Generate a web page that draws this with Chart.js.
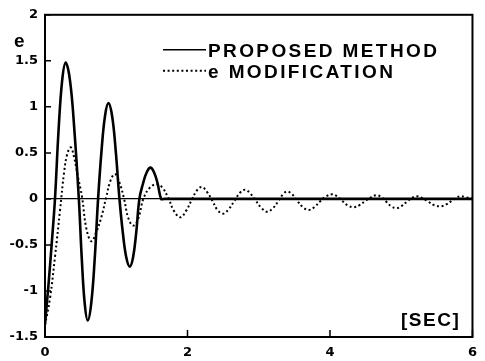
<!DOCTYPE html>
<html><head><meta charset="utf-8">
<script src="https://cdn.jsdelivr.net/npm/chart.js@4.4.0/dist/chart.umd.min.js"></script>
<style>html,body{margin:0;padding:0;background:#fff;overflow:hidden}#wrap{width:485px;height:361px}</style>
</head><body><div id="wrap"><canvas id="c" width="485" height="361"></canvas></div>
<script>
// ---- data ----
const seriesNames = ['PROPOSED METHOD', 'e MODIFICATION'];
const proposedT = [0, 0.047, 0.093, 0.14, 0.19, 0.24, 0.29, 0.352, 0.413, 0.475, 0.517, 0.558, 0.60, 0.648, 0.697, 0.745, 0.793, 0.842, 0.89, 0.942, 0.993, 1.045, 1.093, 1.142, 1.19, 1.235, 1.28, 1.325, 1.377, 1.428, 1.48, 1.53, 1.58, 1.63, 1.67, 1.72, 1.8, 2, 3, 4, 5, 6];
const proposedE = [-1.36, -0.95, -0.5, 0, 0.74, 1.28, 1.48, 1.28, 0.74, 0, -0.66, -1.14, -1.32, -1.14, -0.66, 0, 0.52, 0.90, 1.04, 0.90, 0.52, 0, -0.37, -0.64, -0.735, -0.64, -0.37, 0, 0.17, 0.29, 0.34, 0.29, 0.17, 0, 0, 0, 0, 0, 0, 0, 0, 0];
const modT = [0, 0.07, 0.14, 0.21, 0.27, 0.31, 0.36, 0.40, 0.46, 0.52, 0.58, 0.65, 0.72, 0.79, 0.86, 0.92, 0.98, 1.04, 1.11, 1.17, 1.24, 1.31, 1.38, 1.47, 1.57, 1.65, 1.73, 1.81, 1.90, 1.98, 2.06, 2.13, 2.20, 2.27, 2.35, 2.42, 2.50, 2.58, 2.66, 2.74, 2.81, 2.88, 2.95, 3.04, 3.12, 3.20, 3.27, 3.34, 3.40, 3.47, 3.53, 3.62, 3.70, 3.78, 3.87, 3.95, 4.03, 4.10, 4.17, 4.25, 4.33, 4.41, 4.50, 4.58, 4.65, 4.72, 4.79, 4.86, 4.93, 5.00, 5.08, 5.15, 5.21, 5.29, 5.38, 5.47, 5.56, 5.63, 5.71, 5.77, 5.83, 5.90, 6.0];
const modE = [-1.37, -1.08, -0.63, -0.13, 0.30, 0.48, 0.56, 0.48, 0.25, 0.02, -0.32, -0.46, -0.36, -0.20, 0.02, 0.20, 0.27, 0.19, 0.0, -0.21, -0.29, -0.21, 0.0, 0.12, 0.16, 0.12, 0.01, -0.13, -0.20, -0.13, -0.01, 0.09, 0.13, 0.08, -0.02, -0.12, -0.16, -0.11, -0.02, 0.07, 0.10, 0.06, -0.01, -0.10, -0.14, -0.10, -0.03, 0.05, 0.08, 0.05, -0.01, -0.09, -0.12, -0.09, -0.02, 0.03, 0.05, 0.03, -0.02, -0.07, -0.09, -0.07, -0.02, 0.02, 0.04, 0.02, -0.03, -0.08, -0.10, -0.08, -0.03, 0.01, 0.03, 0.01, -0.03, -0.07, -0.08, -0.06, -0.02, 0.01, 0.03, 0.02, 0.0];
const xTicks = [0, 2, 4, 6];
const yTicks = [-1.5, -1, -0.5, 0, 0.5, 1, 1.5, 2];
const yAxisLabel = 'e';
const xAxisLabel = '[SEC]';

const toPts = (t, e) => t.map((v, i) => ({x: v, y: e[i]}));
const tickFont = {family: 'DejaVu Sans', weight: 'bold', size: 13};

const decor = {
  id: 'decor',
  afterDraw(chart) {
    const {ctx, chartArea: a, scales: {x, y}} = chart;
    ctx.save();
    ctx.strokeStyle = '#000';
    ctx.fillStyle = '#000';
    ctx.lineWidth = 2;
    ctx.strokeRect(a.left, a.top, a.right - a.left, a.bottom - a.top);
    ctx.lineWidth = 1.5;
    ctx.beginPath();
    yTicks.forEach(v => { const p = y.getPixelForValue(v); ctx.moveTo(a.left, p); ctx.lineTo(a.left + 6, p); });
    xTicks.forEach(v => { const p = x.getPixelForValue(v); ctx.moveTo(p, a.bottom); ctx.lineTo(p, a.bottom - 7); });
    ctx.stroke();

    // legend inside plot
    const ds = chart.data.datasets;
    const rows = [a.top + 35, a.top + 56];
    const sx0 = a.left + 118, sx1 = a.left + 161, tx = a.left + 163;
    ctx.font = 'bold 19px "Liberation Sans", Arial, sans-serif';
    ctx.textBaseline = 'alphabetic';
    ctx.textAlign = 'left';
    ds.forEach((d, i) => {
      const ry = rows[i];
      ctx.save();
      ctx.lineWidth = i === 0 ? 1.6 : 2;
      ctx.setLineDash(i === 0 ? [] : [2, 2.6]);
      ctx.beginPath(); ctx.moveTo(sx0, ry); ctx.lineTo(sx1, ry); ctx.stroke();
      ctx.restore();
      ctx.letterSpacing = '2.4px';
      ctx.fillText(d.label, tx, ry + 7);
    });
    ctx.letterSpacing = '0px';
    ctx.fillText(yAxisLabel, 14, 47);
    ctx.letterSpacing = '1.5px';
    ctx.fillText(xAxisLabel, 401, 326);
    ctx.restore();
  }
};

new Chart(document.getElementById('c'), {
  type: 'line',
  data: {
    datasets: [
      {label: seriesNames[0], data: toPts(proposedT, proposedE), borderColor: '#000', borderWidth: 2.6,
       pointRadius: 0, tension: 0.4, fill: false},
      {label: seriesNames[1], data: toPts(modT, modE), borderColor: '#000', borderWidth: 2,
       borderDash: [2, 2.6], pointRadius: 0, tension: 0.4, fill: false}
    ]
  },
  options: {
    responsive: false, animation: false, devicePixelRatio: 1,
    layout: {padding: {top: 12, right: 8, left: 0, bottom: 0}},
    plugins: {legend: {display: false}, tooltip: {enabled: false}},
    scales: {
      x: {
        type: 'linear', min: 0, max: 6,
        afterBuildTicks: s => { s.ticks = xTicks.map(v => ({value: v})); },
        afterFit: s => { s.height = 24; },
        ticks: {font: tickFont, color: '#000', padding: 8, maxRotation: 0, callback: v => String(v)},
        grid: {display: false, drawTicks: false},
        border: {display: false}
      },
      y: {
        type: 'linear', min: -1.5, max: 2,
        afterBuildTicks: s => { s.ticks = yTicks.map(v => ({value: v})); },
        afterFit: s => { s.width = 45; },
        ticks: {font: tickFont, color: '#000', padding: 7, callback: v => String(v)},
        grid: {drawTicks: false, lineWidth: 1.2, color: c => (c.tick && c.tick.value === 0) ? '#000' : 'rgba(0,0,0,0)'},
        border: {display: false}
      }
    }
  },
  plugins: [decor]
});
</script>
</body></html>
